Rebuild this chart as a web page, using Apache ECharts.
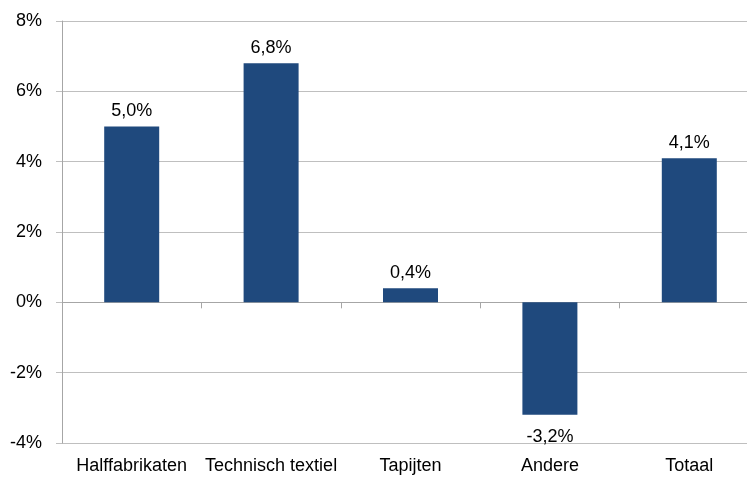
<!DOCTYPE html>
<html>
<head>
    <meta http-equiv="Content-Type" content="text/html; charset=UTF-8">
    <style>
        html, body { margin: 0; padding: 0; background: #fff; overflow: hidden; }
    </style>
</head>
<body>

    <div id="barChart" style="width:747px;height:483px"></div>

    <script type="text/javascript" src="https://cdn.jsdelivr.net/npm/echarts@6/dist/echarts.min.js"></script>
    <script type="text/javascript">
        var categories = ['Halffabrikaten', 'Technisch textiel', 'Tapijten', 'Andere', 'Totaal'];
        var groei = [5.0, 6.8, 0.4, -3.2, 4.1];
        var yTicks = [-4, -2, 0, 2, 4, 6, 8];

        var fontFam = '"Liberation Sans", Arial, sans-serif';

        var myChart = echarts.init(document.getElementById('barChart'));
        var option = {
            animation: false,
            textStyle: { fontFamily: fontFam },
            grid: {
                left: 62,
                top: 21,
                width: 697,
                height: 422,
                outerBoundsMode: 'none',
                containLabel: false
            },
            xAxis: [
                {
                    // labels at the bottom
                    type: 'category',
                    data: categories,
                    position: 'bottom',
                    axisLine: { show: false, onZero: false },
                    axisTick: { show: false },
                    axisLabel: {
                        interval: 0,
                        color: '#000',
                        fontSize: 18,
                        fontFamily: fontFam,
                        margin: 14
                    }
                },
                {
                    // line + ticks on the zero line
                    type: 'category',
                    data: categories,
                    position: 'bottom',
                    axisLine: { show: true, onZero: true, lineStyle: { color: '#a6a6a6', width: 1 } },
                    axisTick: { show: true, interval: 0, length: 6, lineStyle: { color: '#a6a6a6' } },
                    axisLabel: { show: false }
                }
            ],
            yAxis: {
                type: 'value',
                min: yTicks[0],
                max: yTicks[yTicks.length - 1],
                interval: 2,
                axisLine: { show: true, lineStyle: { color: '#a6a6a6', width: 1 } },
                axisTick: { show: true, length: 6, lineStyle: { color: '#bfbfbf' } },
                splitLine: { show: true, lineStyle: { color: '#bfbfbf', width: 1 } },
                axisLabel: {
                    color: '#000',
                    fontSize: 18,
                    fontFamily: fontFam,
                    margin: 20,
                    formatter: function (v) { return v + '%'; }
                }
            },
            series: [
                {
                    type: 'bar',
                    xAxisIndex: 0,
                    barWidth: 55,
                    itemStyle: { color: '#1f497d' },
                    label: {
                        show: true,
                        color: '#000',
                        fontSize: 18,
                        fontFamily: fontFam,
                        distance: 6,
                        position: 'top',
                        formatter: function (p) {
                            return p.value.toFixed(1).replace('.', ',') + '%';
                        }
                    },
                    // negative bar gets its label below
                    data: groei.map(function (v) {
                        return v < 0 ? { value: v, label: { position: 'bottom', distance: 13 } } : v;
                    })
                }
            ]
        };

        myChart.setOption(option);
    </script>
</body>
</html>
